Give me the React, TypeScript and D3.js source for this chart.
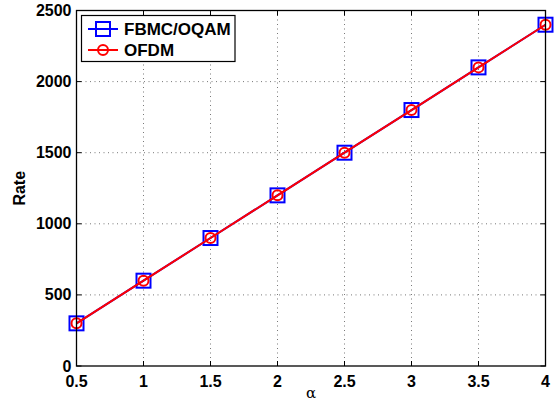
import React from 'react'
import * as d3 from 'd3'

const alphas = [0.5, 1, 1.5, 2, 2.5, 3, 3.5, 4]
const fbmcRate = [300, 600, 900, 1200, 1500, 1800, 2100, 2400]
const ofdmRate = [300, 600, 900, 1200, 1500, 1800, 2100, 2400]
const xTicks = [0.5, 1, 1.5, 2, 2.5, 3, 3.5, 4]
const yTicks = [0, 500, 1000, 1500, 2000, 2500]
const seriesNames = ['FBMC/OQAM', 'OFDM']

const W = 560
const H = 403
const left = 76.5
const right = 545.5
const top = 10.5
const bottom = 366

const font = 'Liberation Sans, Arial, Helvetica, sans-serif'

function App() {
  const x = d3.scaleLinear().domain([0.5, 4]).range([left, right])
  const y = d3.scaleLinear().domain([0, 2500]).range([bottom, top])

  const line = d3.line<number>()
    .x((d, i) => x(alphas[i]))
    .y(d => y(d))

  const tickLen = 5

  return (
    <svg width={W} height={H} style={{ position: 'absolute', left: 0, top: 0, background: '#fff' }}>
      <rect x={0} y={0} width={W} height={H} fill="#fff" />

      {/* grid */}
      <g stroke="#555" strokeWidth={0.8} strokeDasharray="1,3.5">
        {xTicks.slice(1, -1).map(t => (
          <line key={'gx' + t} x1={x(t)} x2={x(t)} y1={top} y2={bottom} />
        ))}
        {yTicks.slice(1, -1).map(t => (
          <line key={'gy' + t} x1={left} x2={right} y1={y(t)} y2={y(t)} />
        ))}
      </g>

      {/* ticks */}
      <g stroke="#000" strokeWidth={1}>
        {xTicks.map(t => (
          <g key={'tx' + t}>
            <line x1={x(t)} x2={x(t)} y1={bottom} y2={bottom - tickLen} />
            <line x1={x(t)} x2={x(t)} y1={top} y2={top + tickLen} />
          </g>
        ))}
        {yTicks.map(t => (
          <g key={'ty' + t}>
            <line x1={left} x2={left + tickLen} y1={y(t)} y2={y(t)} />
            <line x1={right} x2={right - tickLen} y1={y(t)} y2={y(t)} />
          </g>
        ))}
      </g>

      {/* series */}
      <path d={line(fbmcRate) || ''} fill="none" stroke="#0000ff" strokeWidth={2} />
      {fbmcRate.map((v, i) => (
        <rect key={'sq' + i} x={x(alphas[i]) - 7} y={y(v) - 7} width={14} height={14}
          fill="none" stroke="#0000ff" strokeWidth={2} />
      ))}
      <path d={line(ofdmRate) || ''} fill="none" stroke="#ff0000" strokeWidth={2} />
      {ofdmRate.map((v, i) => (
        <circle key={'c' + i} cx={x(alphas[i])} cy={y(v)} r={5}
          fill="none" stroke="#ff0000" strokeWidth={2} />
      ))}

      {/* frame */}
      <rect x={left} y={top} width={right - left} height={bottom - top}
        fill="none" stroke="#000" strokeWidth={1.3} />

      {/* tick labels */}
      <g fontFamily={font} fontWeight="bold" fontSize={16} fill="#000">
        {xTicks.map(t => (
          <text key={'lx' + t} x={x(t)} y={386.5} textAnchor="middle">{t}</text>
        ))}
        {yTicks.map(t => (
          <text key={'ly' + t} x={left - 5} y={y(t) + 5.5} textAnchor="end">{t}</text>
        ))}
      </g>

      {/* axis labels */}
      <text x={(left + right) / 2} y={398} textAnchor="middle"
        fontFamily="DejaVu Serif, serif" fontSize={15}>α</text>
      <text transform={`translate(25, ${(top + bottom) / 2}) rotate(-90)`} textAnchor="middle"
        fontFamily={font} fontWeight="bold" fontSize={16}>Rate</text>

      {/* legend */}
      <g>
        <rect x={81.5} y={15.5} width={153.5} height={46} fill="#fff" stroke="#000" strokeWidth={1.2} />
        <line x1={88} x2={118} y1={29} y2={29} stroke="#0000ff" strokeWidth={2} />
        <rect x={96} y={22} width={14} height={14} fill="none" stroke="#0000ff" strokeWidth={2} />
        <line x1={88} x2={118} y1={50} y2={50} stroke="#ff0000" strokeWidth={2} />
        <circle cx={103} cy={50} r={5} fill="none" stroke="#ff0000" strokeWidth={2} />
        <text x={124} y={35} fontFamily={font} fontWeight="bold" fontSize={17}>{seriesNames[0]}</text>
        <text x={124} y={56} fontFamily={font} fontWeight="bold" fontSize={17}>{seriesNames[1]}</text>
      </g>
    </svg>
  )
}

export default App
